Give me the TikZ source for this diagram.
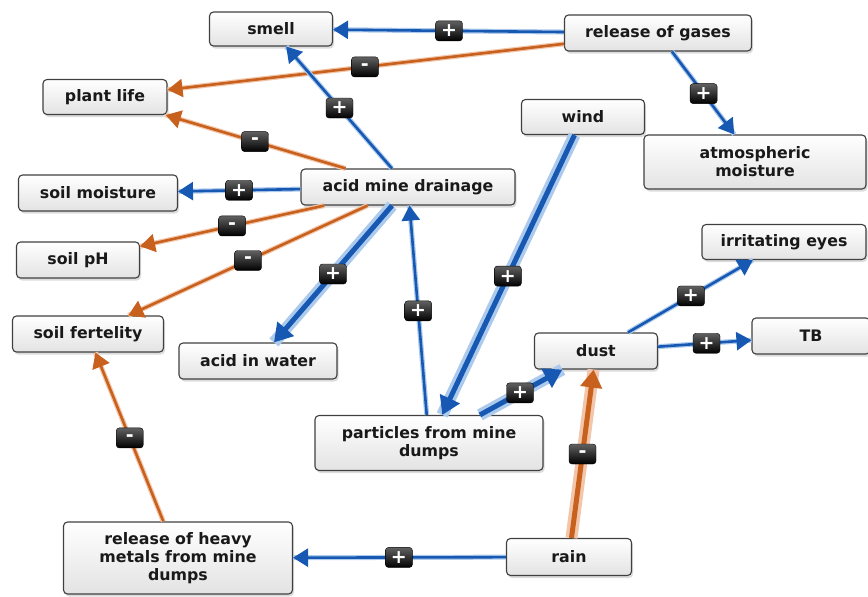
\documentclass[tikz,border=0pt]{standalone}
\usepackage{fontspec}
\setmainfont{DejaVu Sans}
\usetikzlibrary{arrows.meta,shadows,calc}
\definecolor{eblue}{RGB}{22,88,178}
\definecolor{eorange}{RGB}{200,96,30}
\definecolor{hblue}{RGB}{172,202,236}
\definecolor{horange}{RGB}{242,198,170}
\definecolor{txt}{RGB}{25,25,25}
\begin{document}
\begin{tikzpicture}[x=1pt,y=-1pt,
  box/.style={draw=black!75, line width=1.1pt, rounded corners=4pt,
    top color=white, bottom color=black!11,
    drop shadow={opacity=0.28,shadow xshift=1.5pt,shadow yshift=-2.5pt},
    font=\fontsize{15.8}{18}\selectfont\bfseries, text=txt, align=center, inner sep=0pt},
  wh/.style 2 args={minimum width=#1pt, minimum height=#2pt},
  sgn/.style={rounded corners=3pt, top color=black!62, bottom color=black, draw=black,
    minimum width=27pt, minimum height=20pt, inner sep=0pt, text=white,
    font=\fontsize{19}{19}\selectfont\bfseries},
  bthin/.style={draw=eblue, line width=2.6pt, -{Triangle[length=15pt,width=18pt]},
    preaction={draw=hblue, line width=5pt, -}},
  bthick/.style={draw=eblue, line width=5pt, -{Triangle[length=18pt,width=21pt]},
    preaction={draw=hblue, line width=12pt, -}},
  othin/.style={draw=eorange, line width=2.6pt, -{Triangle[length=15pt,width=18pt]},
    preaction={draw=horange, line width=5pt, -}},
  othick/.style={draw=eorange, line width=5pt, -{Triangle[length=18pt,width=21pt]},
    preaction={draw=horange, line width=12pt, -}}
]
\useasboundingbox (0,0) rectangle (868,597);

% nodes
\node[box, wh={123}{34}] (smell) at (271,29) {smell};
\node[box, wh={187}{36}] (gases) at (658,33) {release of gases};
\node[box, wh={124}{35}] (plant) at (105,97) {plant life};
\node[box, wh={123}{35}] (wind) at (583,117) {wind};
\node[box, wh={222}{54}] (atm) at (755,162) {atmospheric\\moisture};
\node[box, wh={214}{36}] (amd) at (408,187) {acid mine drainage};
\node[box, wh={159}{36}] (moist) at (98,193) {soil moisture};
\node[box, wh={123}{36}] (ph) at (78,260) {soil pH};
\node[box, wh={164}{35}] (eyes) at (784,242) {irritating eyes};
\node[box, wh={151}{36}] (fert) at (88,334) {soil fertelity};
\node[box, wh={158}{36}] (water) at (258,361) {acid in water};
\node[box, wh={118}{36}] (tb) at (811,336) {TB};
\node[box, wh={123}{36}] (dust) at (596,351) {dust};
\node[box, wh={228}{55}] (part) at (429,443) {particles from mine\\dumps};
\node[box, wh={125}{37}] (rain) at (569,557) {rain};
\node[box, wh={229}{72}] (heavy) at (178,558) {release of heavy\\metals from mine\\dumps};

% connectors
\draw[bthin] (gases) -- (smell);
\draw[othin] (gases) -- (plant);
\draw[bthin] (gases) -- (atm);
\draw[bthin] (amd) -- (smell);
\draw[othin] (amd) -- (plant);
\draw[bthin] (amd) -- (moist);
\draw[othin] (amd) -- (ph);
\draw[othin] (amd) -- (fert);
\draw[bthick] (amd) -- (water);
\draw[bthin] (part) -- (amd);
\draw[bthick] (wind) -- (part);
\draw[bthick] (part) -- (dust);
\draw[bthin] (dust) -- (eyes);
\draw[bthin] (dust) -- (tb);
\draw[othick] (rain) -- (dust);
\draw[bthin] (rain) -- (heavy);
\draw[othin] (heavy) -- (fert);

% signs
\node[sgn] (s1) at ($(gases)!0.54!(smell)$) {+};
\node[sgn] (s2) at ($(gases)!0.53!(plant)$) {-};
\node[sgn] (s3) at ($(gases)!0.47!(atm)$) {+};
\node[sgn] (s4) at ($(amd)!0.5!(smell)$) {+};
\node[sgn] (s5) at ($(amd)!0.505!(plant)$) {-};
\node[sgn] (s6) at ($(amd)!0.545!(moist)$) {+};
\node[sgn] (s7) at ($(amd)!0.533!(ph)$) {-};
\node[sgn] (s8) at ($(amd)!0.5!(fert)$) {-};
\node[sgn] (s9) at ($(amd)!0.5!(water)$) {+};
\node[sgn] (s10) at ($(part)!0.516!(amd)$) {+};
\node[sgn] (s11) at ($(wind)!0.488!(part)$) {+};
\node[sgn] (s12) at ($(part)!0.545!(dust)$) {+};
\node[sgn] (s13) at ($(dust)!0.505!(eyes)$) {+};
\node[sgn] (s14) at ($(dust)!0.514!(tb)$) {+};
\node[sgn] (s15) at ($(rain)!0.5!(dust)$) {-};
\node[sgn] (s16) at ($(rain)!0.435!(heavy)$) {+};
\node[sgn] (s17) at ($(heavy)!0.536!(fert)$) {-};
\end{tikzpicture}
\end{document}
